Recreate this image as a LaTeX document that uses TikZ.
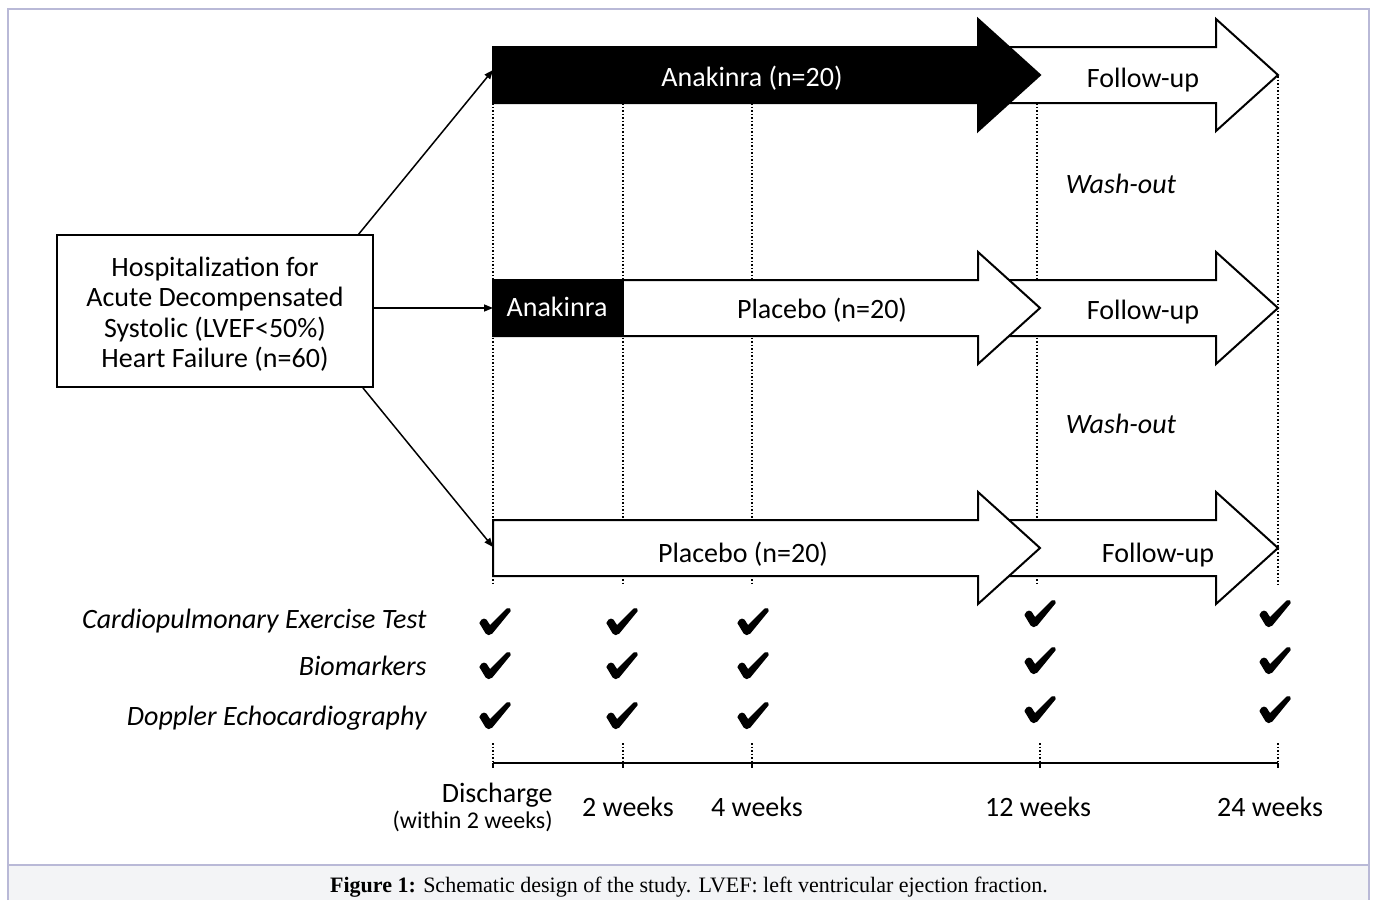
\documentclass[tikz,border=0pt]{standalone}
\usepackage{fontspec}
\setmainfont{Carlito}
\newfontfamily\capfont{Liberation Serif}
\usetikzlibrary{arrows.meta}
\definecolor{framecol}{RGB}{185,185,215}
\definecolor{capbg}{RGB}{243,244,246}
\newcommand{\bigarr}[5]{%
  \path[#5] (#1,#4-28) -- (#2,#4-28) -- (#2,#4-56) -- (#3,#4) -- (#2,#4+56) -- (#2,#4+28) -- (#1,#4+28) -- cycle;}
\newcommand{\chkmark}[2]{%
  \path[chkstyle, shift={(#1,#2)}] (-15,2) .. controls (-13,-3) and (-9,-3) .. (-7,2)
    -- (-5,5) -- (12,-12) .. controls (14,-13) and (16,-12) .. (15,-10)
    -- (-3,12) .. controls (-5,14) and (-8,14) .. (-9,12) -- cycle;}
\begin{document}
\begin{tikzpicture}[x=0.5pt,y=-0.5pt,
  fu/.style={draw=black, fill=white, line width=1pt, line join=miter},
  blk/.style={draw=black, fill=black, line width=1pt},
  dots/.style={densely dotted, line width=0.75pt},
  conn/.style={line width=0.75pt, -{Triangle[length=4.5pt,width=3.5pt]}},
  lbl/.style={inner sep=0, font=\fontsize{14}{17}\selectfont},
  ilbl/.style={inner sep=0, font=\itshape\fontsize{14}{17}\selectfont},
  wlbl/.style={lbl, text=white},
  chkstyle/.style={fill=black, draw=black, line width=0.6pt, line join=round},
  frame/.style={draw=framecol, line width=0.75pt}]
\useasboundingbox (0,0) rectangle (1375,900);
% frame and caption
\fill[capbg] (8,865) rectangle (1369,900);
\draw[frame] (8,900) -- (8,9) -- (1369,9) -- (1369,900);
\draw[frame] (8,865) -- (1369,865);
\node[inner sep=0, anchor=base, font=\capfont\fontsize{11}{13}\selectfont] (cap) at (689,892)
  {\textbf{Figure 1:} Schematic design of the study. LVEF: left ventricular ejection fraction.};
% dotted time lines
\foreach \x in {493,623,752,1037}{
  \draw[dots] (\x,103) -- (\x,586);}
\draw[dots] (1278,76) -- (1278,586);
% follow-up arrows (behind)
\bigarr{1000}{1216}{1278}{75}{fu}
\bigarr{1000}{1216}{1278}{308}{fu}
\bigarr{1000}{1216}{1278}{548}{fu}
% treatment arrows
\bigarr{493}{978}{1040}{75}{blk}
\bigarr{493}{978}{1040}{308}{fu}
\fill[black] (493,280) rectangle (623,336);
\draw[line width=1pt] (493,280) rectangle (623,336);
\bigarr{493}{978}{1040}{548}{fu}
% arrow labels
\node[wlbl, anchor=base] (t1) at (752,86) {Anakinra (n=20)};
\node[lbl, anchor=base] (f1) at (1143,87) {Follow-up};
\node[wlbl, anchor=base] (t2a) at (557,316) {Anakinra};
\node[lbl, anchor=base] (t2b) at (822,318) {Placebo (n=20)};
\node[lbl, anchor=base] (f2) at (1143,319) {Follow-up};
\node[lbl, anchor=base] (t3) at (743,562) {Placebo (n=20)};
\node[lbl, anchor=base] (f3) at (1158,562) {Follow-up};
\node[ilbl, anchor=base] (w1) at (1121,193) {Wash-out};
\node[ilbl, anchor=base] (w2) at (1121,433) {Wash-out};
% source box
\node[draw, line width=1pt, fill=white, minimum width=158pt, minimum height=76pt] (box) at (215,311) {};
\node[align=center, inner sep=0, font=\fontsize{14}{15.25}\selectfont] (boxtxt) at (215,314)
  {Hospitalization for\\Acute Decompensated\\Systolic (LVEF<50\%)\\Heart Failure (n=60)};
\coordinate (bt) at (358,235);
\coordinate (bm) at (373,308);
\coordinate (bb) at (363,388);
\coordinate (a1) at (493,70);
\coordinate (a2) at (493,308);
\coordinate (a3) at (493,547);
\draw[conn] (bt) -- (a1);
\draw[conn] (bm) -- (a2);
\draw[conn] (bb) -- (a3);
% assessment rows
\node[ilbl, anchor=base east] (r1) at (427,628) {Cardiopulmonary Exercise Test};
\node[ilbl, anchor=base east] (r2) at (427,675) {Biomarkers};
\node[ilbl, anchor=base east] (r3) at (427,725) {Doppler Echocardiography};
\foreach \x in {495,622,753}{
  \chkmark{\x}{621}
  \chkmark{\x}{665}
  \chkmark{\x}{715}}
\foreach \x in {1040,1275}{
  \chkmark{\x}{613}
  \chkmark{\x}{660}
  \chkmark{\x}{709}}
% time axis
\draw[line width=0.8pt] (493,763) -- (1278,763);
\foreach \x in {493,623,752,1040,1278}{
  \draw[dots] (\x,743) -- (\x,763);
  \draw[line width=0.8pt] (\x,763) -- (\x,768);}
\node[lbl, anchor=base east] (x0) at (553,802) {Discharge};
\node[inner sep=0, anchor=base east, font=\fontsize{12}{14}\selectfont] (x0b) at (553,828) {(within 2 weeks)};
\node[lbl, anchor=base] (x2) at (628,816) {2 weeks};
\node[lbl, anchor=base] (x4) at (757,816) {4 weeks};
\node[lbl, anchor=base] (x12) at (1038,816) {12 weeks};
\node[lbl, anchor=base] (x24) at (1270,816) {24 weeks};
\end{tikzpicture}
\end{document}
